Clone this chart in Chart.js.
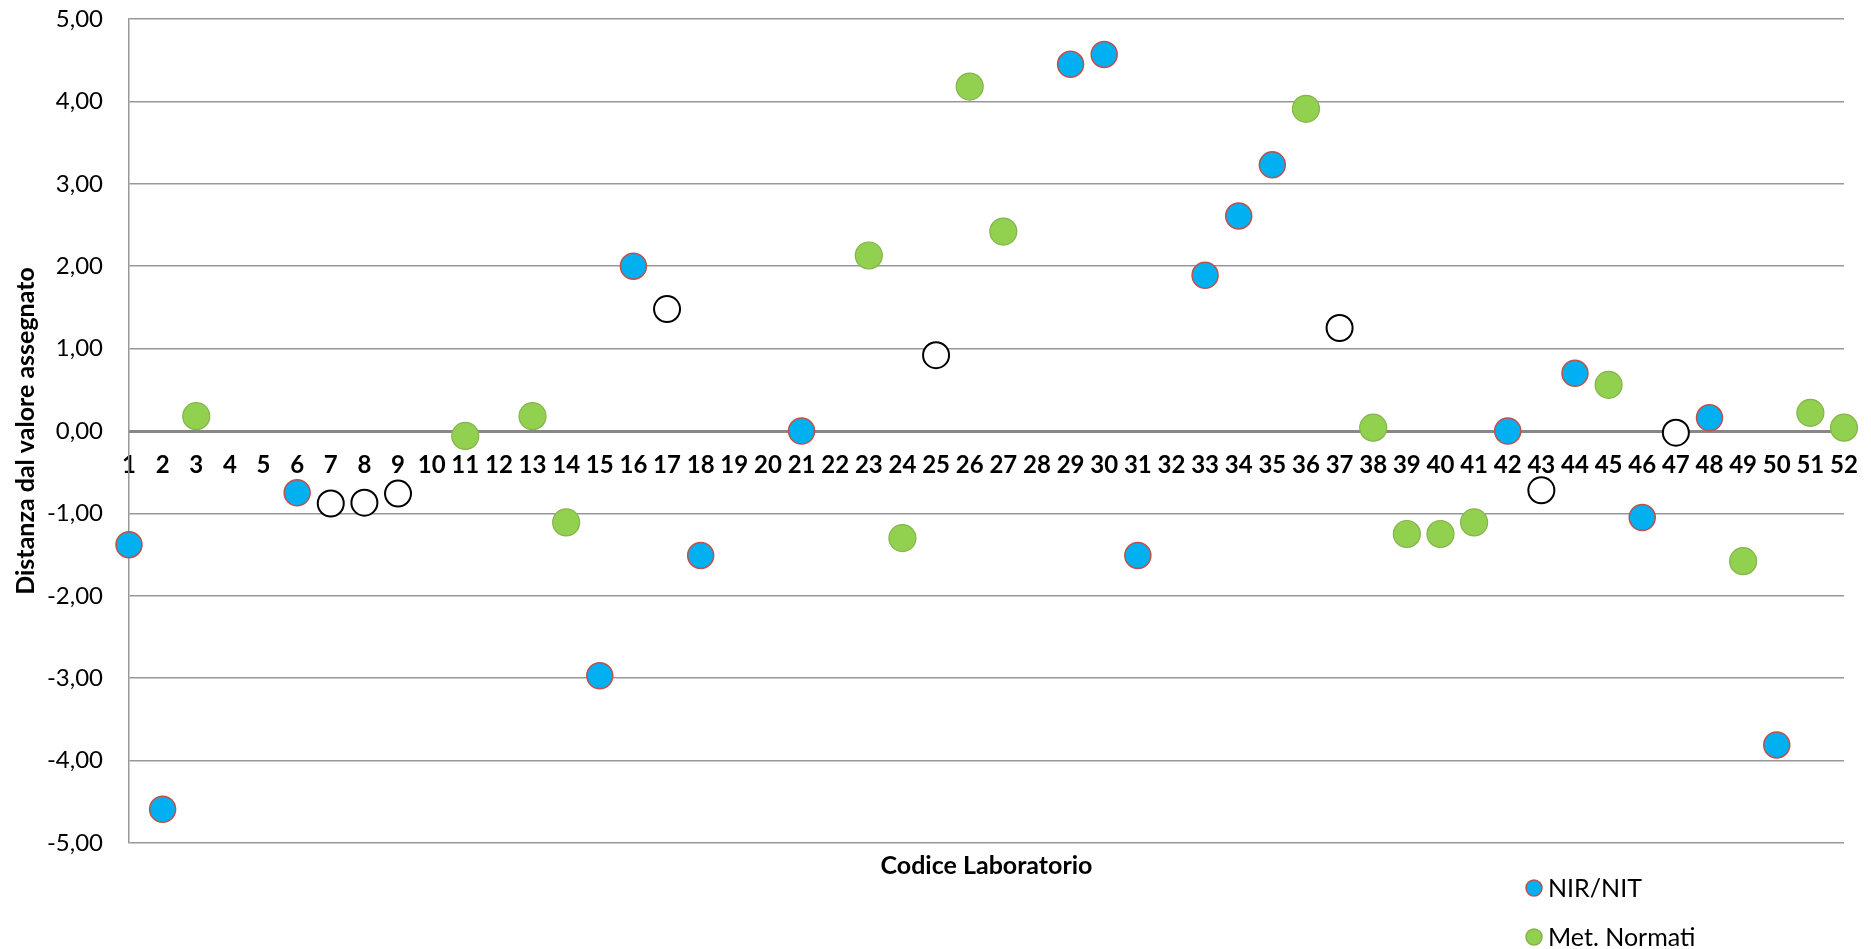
<!DOCTYPE html>
<html>
<head>
<meta charset="utf-8">
<script src="https://cdn.jsdelivr.net/npm/chart.js@4.4.1/dist/chart.umd.min.js"></script>
<style>
  html, body { margin: 0; padding: 0; background: #fff; }
  #wrap { width: 1871px; height: 949px; }
</style>
</head>
<body>
<div id="wrap"><canvas id="chart" width="1871" height="949"></canvas></div>
<script>
// Codici laboratorio (asse x)
const labCodes = ['1','2','3','4','5','6','7','8','9','10','11','12','13','14','15','16','17','18','19','20',
  '21','22','23','24','25','26','27','28','29','30','31','32','33','34','35','36','37','38','39','40',
  '41','42','43','44','45','46','47','48','49','50','51','52'];

// NIR/NIT
const nirCodes = ['1','2','6','15','16','18','21','29','30','31','33','34','35','42','44','46','48','50'];
const nirValues = [-1.38, -4.59, -0.75, -2.97, 2.00, -1.51, 0.00, 4.45, 4.57, -1.51, 1.89, 2.61, 3.23, 0.00, 0.70, -1.05, 0.16, -3.81];

// Met. Normati
const normCodes = ['3','11','13','14','23','24','26','27','36','38','39','40','41','45','49','51','52'];
const normValues = [0.18, -0.06, 0.18, -1.11, 2.13, -1.30, 4.18, 2.42, 3.91, 0.04, -1.25, -1.25, -1.11, 0.56, -1.58, 0.22, 0.04];

// terza serie (marker vuoti, non in legenda)
const otherCodes = ['7','8','9','17','25','37','43','47'];
const otherValues = [-0.88, -0.87, -0.76, 1.48, 0.92, 1.25, -0.72, -0.02];

const FONT = 'Lato, "Open Sans", sans-serif';
const xTitle = 'Codice Laboratorio';
const yTitle = 'Distanza dal valore assegnato';

function toPoints(codes, values) {
  return codes.map((c, i) => ({ x: c, y: values[i] }));
}

// titolo asse x e legenda verticale in basso a destra
const extras = {
  id: 'extras',
  afterDraw(chart) {
    const { ctx, chartArea } = chart;
    ctx.save();
    ctx.fillStyle = '#000';
    ctx.font = 'bold 25px ' + FONT;
    ctx.textAlign = 'center';
    ctx.textBaseline = 'middle';
    ctx.fillText(xTitle, (chartArea.left + chartArea.right) / 2, chartArea.bottom + 23);

    let y = 888;
    chart.data.datasets.forEach(ds => {
      if (!ds.label) return;
      ctx.beginPath();
      ctx.arc(1534, y, 8, 0, Math.PI * 2);
      ctx.fillStyle = ds.pointBackgroundColor;
      ctx.fill();
      ctx.lineWidth = 1.5;
      ctx.strokeStyle = ds.pointBorderColor;
      ctx.stroke();
      ctx.fillStyle = '#000';
      ctx.font = '25px ' + FONT;
      ctx.textAlign = 'left';
      ctx.fillText(ds.label, 1548, y + 1);
      y += 49;
    });
    ctx.restore();
  }
};

const ctx = document.getElementById('chart').getContext('2d');
new Chart(ctx, {
  type: 'line',
  data: {
    labels: labCodes,
    datasets: [
      {
        label: 'NIR/NIT',
        data: toPoints(nirCodes, nirValues),
        showLine: false,
        pointRadius: 13,
        pointBorderWidth: 1.5,
        pointBackgroundColor: '#00B0F0',
        pointBorderColor: '#C0504D',
        clip: false
      },
      {
        label: 'Met. Normati',
        data: toPoints(normCodes, normValues),
        showLine: false,
        pointRadius: 13.5,
        pointBorderWidth: 1.2,
        pointBackgroundColor: '#92D050',
        pointBorderColor: '#86B34B',
        clip: false
      },
      {
        label: '',
        data: toPoints(otherCodes, otherValues),
        showLine: false,
        pointRadius: 13,
        pointBorderWidth: 2,
        pointBackgroundColor: '#FFFFFF',
        pointBorderColor: '#000000',
        clip: false
      }
    ]
  },
  options: {
    responsive: false,
    animation: false,
    events: [],
    layout: { padding: { top: 19, bottom: 106, right: 27, left: 0 } },
    plugins: {
      legend: { display: false },
      tooltip: { enabled: false }
    },
    scales: {
      x: {
        type: 'category',
        offset: false,
        position: { y: 0 },
        // niente griglia verticale; tick invisibili per staccare le etichette dall'asse
        grid: { display: false, drawTicks: true, tickLength: 20 },
        border: { display: true, color: '#878787', width: 3 },
        ticks: {
          autoSkip: false,
          maxRotation: 0,
          padding: 0,
          color: '#000',
          font: { family: FONT, size: 24, weight: 'bold' }
        }
      },
      y: {
        min: -5,
        max: 5,
        afterFit(scale) { scale.width = 129; },
        // tick marks invisibili: spostano le etichette senza aggiungere padding in alto
        grid: { color: '#989898', lineWidth: 1.5, drawTicks: true, tickLength: 26, tickColor: 'rgba(0,0,0,0)' },
        border: { display: true, color: '#989898', width: 1.5 },
        ticks: {
          stepSize: 1,
          padding: 0,
          color: '#000',
          font: { family: FONT, size: 24 },
          callback: v => v.toFixed(2).replace('.', ',')
        },
        title: {
          display: true,
          text: yTitle,
          color: '#000',
          padding: { top: 11, bottom: 0 },
          font: { family: FONT, size: 25, weight: 'bold' }
        }
      }
    }
  },
  plugins: [extras]
});
</script>
</body>
</html>
